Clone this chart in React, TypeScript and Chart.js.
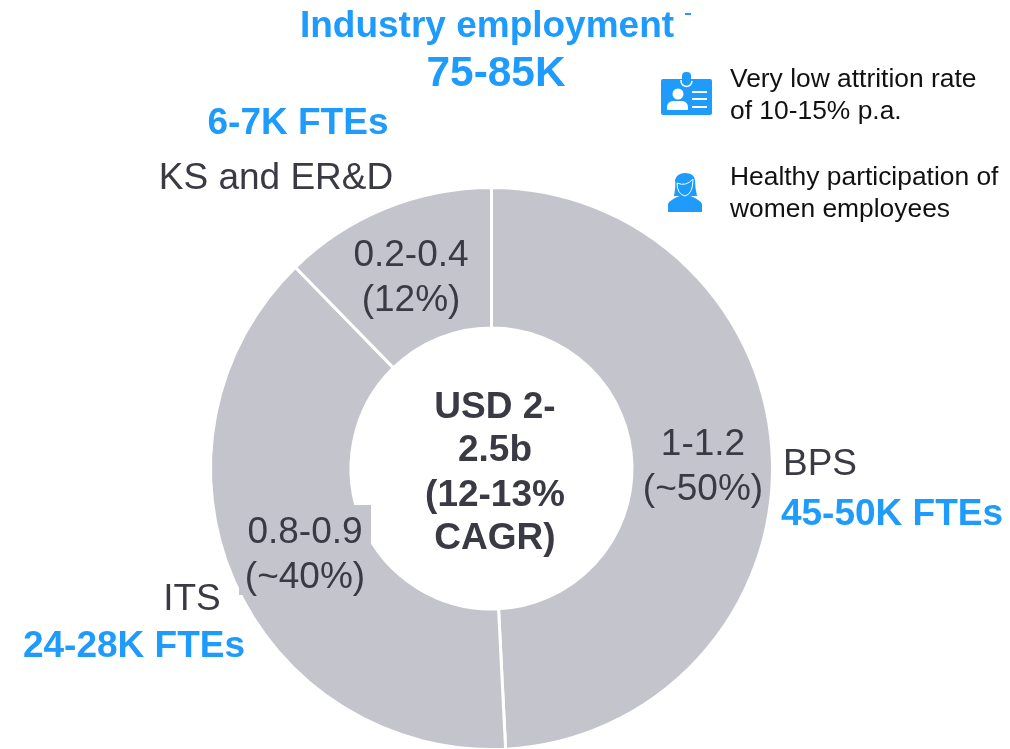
import React, { useEffect, useRef } from "react";
import { Chart, registerables } from "chart.js";

Chart.register(...registerables);

const segments = ["BPS", "ITS", "KS and ER&D"];
const shares = [49.2, 38.5, 12.3];
const valueLabels = ["1-1.2", "(~50%)", "0.8-0.9", "(~40%)", "0.2-0.4", "(12%)"];
const fteLabels = ["45-50K FTEs", "24-28K FTEs", "6-7K FTEs"];
const centerLines = ["USD 2-", "2.5b", "(12-13%", "CAGR)"];
const titleLines = ["Industry employment", "75-85K"];
const noteLines = ["Very low attrition rate", "of 10-15% p.a.", "Healthy participation of", "women employees"];

const BLUE = "#1E9BFB";
const GREY = "#C4C4CC";
const DARK = "#3A3A45";
const FONT = '"Liberation Sans", Arial, sans-serif';

type T = { t: string; x: number; y: number; s: number; c: string; b?: boolean; a?: CanvasTextAlign };

const texts: T[] = [
  { t: titleLines[0], x: 487, y: 25, s: 37, c: BLUE, b: true },
  { t: titleLines[1], x: 496, y: 72, s: 42.4, c: BLUE, b: true },
  { t: fteLabels[2], x: 298, y: 122, s: 37, c: BLUE, b: true },
  { t: segments[2], x: 276, y: 177, s: 37, c: DARK },
  { t: valueLabels[4], x: 411, y: 254, s: 37, c: DARK },
  { t: valueLabels[5], x: 411, y: 299, s: 37, c: DARK },
  { t: valueLabels[0], x: 703, y: 443, s: 37, c: DARK },
  { t: valueLabels[1], x: 703, y: 488, s: 37, c: DARK },
  { t: segments[0], x: 820, y: 463, s: 37, c: DARK },
  { t: fteLabels[0], x: 892, y: 513, s: 37, c: BLUE, b: true },
  { t: valueLabels[2], x: 305, y: 531, s: 37, c: DARK },
  { t: valueLabels[3], x: 305, y: 576, s: 37, c: DARK },
  { t: segments[1], x: 192, y: 598, s: 37, c: DARK },
  { t: fteLabels[1], x: 134, y: 645, s: 37, c: BLUE, b: true },
  { t: centerLines[0], x: 495, y: 406, s: 37, c: DARK, b: true },
  { t: centerLines[1], x: 495, y: 449, s: 37, c: DARK, b: true },
  { t: centerLines[2], x: 495, y: 494, s: 37, c: DARK, b: true },
  { t: centerLines[3], x: 495, y: 537, s: 37, c: DARK, b: true },
  { t: noteLines[0], x: 730, y: 78, s: 26.4, c: "#111", a: "left" },
  { t: noteLines[1], x: 730, y: 110, s: 26.4, c: "#111", a: "left" },
  { t: noteLines[2], x: 730, y: 176, s: 26.4, c: "#111", a: "left" },
  { t: noteLines[3], x: 730, y: 208, s: 26.4, c: "#111", a: "left" },
];

function drawBadge(ctx: CanvasRenderingContext2D) {
  ctx.fillStyle = BLUE;
  ctx.beginPath();
  ctx.roundRect(661, 79, 51, 36, 2);
  ctx.fill();
  ctx.beginPath();
  ctx.roundRect(682, 72, 9, 13, 4);
  ctx.fill();
  ctx.strokeStyle = "#fff";
  ctx.lineWidth = 1.5;
  ctx.beginPath();
  ctx.moveTo(681, 80);
  ctx.arc(686.5, 81, 5.5, Math.PI, 0, true);
  ctx.stroke();
  ctx.fillStyle = "#fff";
  ctx.beginPath();
  ctx.arc(678, 94, 5.5, 0, Math.PI * 2);
  ctx.fill();
  ctx.beginPath();
  ctx.roundRect(667, 101, 21, 9, [6, 6, 1, 1]);
  ctx.fill();
  ctx.fillRect(692, 91, 15, 2);
  ctx.fillRect(692, 98, 15, 2);
  ctx.fillRect(692, 106, 15, 2);
}

function drawWoman(ctx: CanvasRenderingContext2D) {
  ctx.fillStyle = BLUE;
  ctx.beginPath();
  ctx.moveTo(668, 212);
  ctx.lineTo(668, 204);
  ctx.quadraticCurveTo(670, 199, 685, 194);
  ctx.quadraticCurveTo(700, 199, 702, 204);
  ctx.lineTo(702, 212);
  ctx.closePath();
  ctx.fill();
  ctx.beginPath();
  ctx.moveTo(674, 196);
  ctx.quadraticCurveTo(676, 185, 675, 180);
  ctx.quadraticCurveTo(677, 173, 685, 173);
  ctx.quadraticCurveTo(694, 173, 695, 180);
  ctx.quadraticCurveTo(695, 188, 697, 196);
  ctx.closePath();
  ctx.fill();
  ctx.strokeStyle = "#fff";
  ctx.lineWidth = 1;
  ctx.beginPath();
  ctx.moveTo(677, 183);
  ctx.quadraticCurveTo(677, 194, 685, 196);
  ctx.quadraticCurveTo(693, 194, 693, 179);
  ctx.quadraticCurveTo(686, 187, 677, 183);
  ctx.stroke();
}

const overlay = {
  id: "overlay",
  afterDatasetsDraw(chart: Chart) {
    const ctx = chart.ctx;
    ctx.save();
    // label backing boxes that spill off the ring in the source
    ctx.fillStyle = GREY;
    ctx.fillRect(239, 505, 132, 38);
    ctx.fillRect(239, 543, 125, 52);
    texts.forEach((d) => {
      ctx.font = `${d.b ? "bold " : ""}${d.s}px ${FONT}`;
      ctx.fillStyle = d.c;
      ctx.textAlign = d.a ?? "center";
      ctx.textBaseline = "middle";
      ctx.fillText(d.t, d.x, d.y + 2);
    });
    ctx.fillStyle = BLUE;
    ctx.fillRect(685, 13, 6, 2);
    drawBadge(ctx);
    drawWoman(ctx);
    ctx.restore();
  },
};

export default function App() {
  const ref = useRef<HTMLCanvasElement | null>(null);
  useEffect(() => {
    if (!ref.current) return;
    const chart = new Chart(ref.current, {
      type: "doughnut",
      data: {
        labels: segments,
        datasets: [
          {
            data: shares,
            backgroundColor: GREY,
            borderColor: "#ffffff",
            borderWidth: 3,
            hoverOffset: 0,
          },
        ],
      },
      options: {
        responsive: false,
        animation: false,
        cutout: "50%",
        layout: { padding: { left: 209, right: 236, top: 186, bottom: 9 } },
        plugins: { legend: { display: false }, tooltip: { enabled: false } },
      },
      plugins: [overlay],
    });
    return () => chart.destroy();
  }, []);
  return (
    <div style={{ position: "fixed", left: 0, top: 0, width: 1010, height: 749, overflow: "hidden" }}>
      <canvas ref={ref} width={1010} height={760} style={{ display: "block", width: 1010, height: 760 }} />
    </div>
  );
}
